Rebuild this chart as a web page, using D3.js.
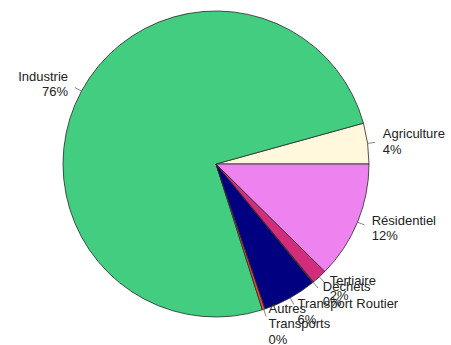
<!DOCTYPE html>
<html>
<head>
<meta charset="utf-8">
<script src="https://cdn.jsdelivr.net/npm/d3@7"></script>
<style>
  html, body { margin: 0; padding: 0; background: #fff; }
  svg { display: block; }
  text { font-family: "Liberation Sans", Arial, sans-serif; font-size: 13px; fill: #222; }
</style>
</head>
<body>
<svg id="chart" width="451" height="345"></svg>
<script>
// Emission shares by sector (percent)
const sectors = ["Agriculture", "Industrie", "Autres\nTransports", "Transport Routier", "Déchets", "Tertiaire", "Résidentiel"];
const shares = [4.3, 75.6, 0.3, 5.7, 0.1, 1.6, 12.4];
const colors = ["#FFF8DC", "#43CD80", "#E8463C", "#000080", "#8B2252", "#D42C7C", "#EE82EE"];

const width = 451, height = 345;
const cx = 216, cy = 164, radius = 153;

const svg = d3.select("#chart");
const g = svg.append("g").attr("transform", `translate(${cx},${cy})`);

const data = sectors.map((name, i) => ({ name, value: shares[i], color: colors[i] }));
const total = d3.sum(shares);

// Slices run counter-clockwise starting from 3 o'clock
const pie = d3.pie()
  .sort(null)
  .value(d => d.value)
  .startAngle(Math.PI / 2)
  .endAngle(Math.PI / 2 - 2 * Math.PI);

const arcs = pie(data);
const arc = d3.arc().innerRadius(0).outerRadius(radius);

g.selectAll("path.slice")
  .data(arcs)
  .join("path")
  .attr("class", "slice")
  .attr("d", arc)
  .attr("fill", d => d.data.color)
  .attr("stroke", "#2a2a2a")
  .attr("stroke-width", 0.8)
  .attr("stroke-linejoin", "round");

const lineH = 15.5;

arcs.forEach(a => {
  const mid = (a.startAngle + a.endAngle) / 2;
  const sx = Math.sin(mid), sy = -Math.cos(mid);

  // short tick from the rim outwards
  g.append("line")
    .attr("x1", sx * radius).attr("y1", sy * radius)
    .attr("x2", sx * radius * 1.05).attr("y2", sy * radius * 1.05)
    .attr("stroke", "#666")
    .attr("stroke-width", 0.8);

  const pct = Math.round(a.data.value / total * 100) + "%";
  const lines = a.data.name.split("\n").concat([pct]);
  const tx = sx * radius * 1.1, ty = sy * radius * 1.1;
  const t = g.append("text")
    .attr("x", tx)
    .attr("y", ty)
    .attr("text-anchor", sx < 0 ? "end" : "start");
  const y0 = -(lines.length - 1) * lineH / 2;
  lines.forEach((s, i) => {
    t.append("tspan")
      .attr("x", tx)
      .attr("y", ty + y0 + i * lineH)
      .attr("dy", "0.35em")
      .text(s);
  });
});
</script>
</body>
</html>
